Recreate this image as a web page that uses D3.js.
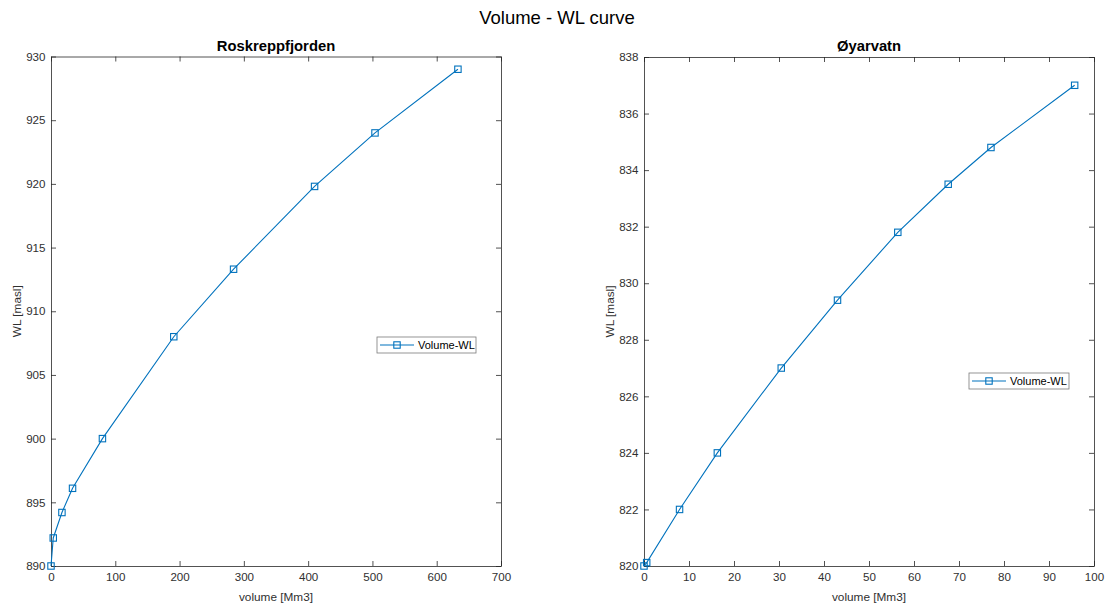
<!DOCTYPE html>
<html>
<head>
<meta charset="utf-8">
<script src="https://cdn.jsdelivr.net/npm/d3@7"></script>
<style>
  body { margin: 0; background: #fff; }
  svg { display: block; font-family: "Liberation Sans", Arial, Helvetica, sans-serif; }
  .tick text { fill: #303030; font-size: 11.6px; }
  .axis-label { fill: #303030; font-size: 11.8px; }
  .panel-title { fill: #000; font-size: 14.8px; font-weight: bold; }
</style>
</head>
<body>
<div id="chart"></div>
<script>
// Roskreppfjorden
const roskVolume = [0, 3.5, 17, 33.5, 80, 191, 284, 410, 504, 633];
const roskWL = [890, 892.2, 894.2, 896.1, 900, 908, 913.3, 919.8, 924, 929];
const roskXTicks = [0, 100, 200, 300, 400, 500, 600, 700];
const roskYTicks = [890, 895, 900, 905, 910, 915, 920, 925, 930];

// Øyarvatn
const oyVolume = [0, 0.6, 7.9, 16.3, 30.5, 43, 56.4, 67.6, 77.1, 95.7];
const oyWL = [820, 820.12, 822, 824, 827, 829.4, 831.8, 833.5, 834.8, 837];
const oyXTicks = [0, 10, 20, 30, 40, 50, 60, 70, 80, 90, 100];
const oyYTicks = [820, 822, 824, 826, 828, 830, 832, 834, 836, 838];

const W = 1113, H = 604;
const lineColor = "#0072BD";
const axisColor = "#262626";

const svg = d3.select("#chart").append("svg")
  .attr("width", W)
  .attr("height", H);

svg.append("text")
  .attr("x", W / 2 + 0.5)
  .attr("y", 24)
  .attr("text-anchor", "middle")
  .style("font-size", "18.5px")
  .style("fill", "#000")
  .text("Volume - WL curve");

function drawPanel(cfg) {
  const x = d3.scaleLinear().domain(d3.extent(cfg.xTicks)).range([cfg.left, cfg.right]);
  const y = d3.scaleLinear().domain(d3.extent(cfg.yTicks)).range([cfg.bottom, cfg.top]);
  const g = svg.append("g");

  // axes box with inward ticks on all four sides (MATLAB style)
  const axes = [
    { ax: d3.axisBottom(x).tickValues(cfg.xTicks).tickSize(-5).tickPadding(7), t: `translate(0,${cfg.bottom})`, labels: true },
    { ax: d3.axisTop(x).tickValues(cfg.xTicks).tickSize(-5), t: `translate(0,${cfg.top})`, labels: false },
    { ax: d3.axisLeft(y).tickValues(cfg.yTicks).tickSize(-5).tickPadding(5.5), t: `translate(${cfg.left},0)`, labels: true },
    { ax: d3.axisRight(y).tickValues(cfg.yTicks).tickSize(-5), t: `translate(${cfg.right},0)`, labels: false }
  ];
  axes.forEach(a => {
    const ag = g.append("g").attr("transform", a.t).call(a.ax.tickSizeOuter(0));
    ag.select(".domain").attr("stroke", axisColor).attr("stroke-width", 0.8);
    ag.selectAll(".tick line").attr("stroke", axisColor).attr("stroke-width", 0.8);
    if (!a.labels) ag.selectAll(".tick text").remove();
    ag.selectAll(".tick text").attr("font-family", null).attr("font-size", null);
  });

  // titles and labels
  g.append("text")
    .attr("class", "panel-title")
    .attr("x", (cfg.left + cfg.right) / 2)
    .attr("y", cfg.top - 6)
    .attr("text-anchor", "middle")
    .text(cfg.title);

  g.append("text")
    .attr("class", "axis-label")
    .attr("x", (cfg.left + cfg.right) / 2)
    .attr("y", cfg.bottom + 35)
    .attr("text-anchor", "middle")
    .text("volume [Mm3]");

  g.append("text")
    .attr("class", "axis-label")
    .attr("transform", `translate(${cfg.left - 30},${(cfg.top + cfg.bottom) / 2}) rotate(-90)`)
    .attr("text-anchor", "middle")
    .text("WL [masl]");

  const data = cfg.xs.map((v, i) => ({ v: v, wl: cfg.ys[i] }));

  const line = d3.line().x(d => x(d.v)).y(d => y(d.wl));
  g.append("path")
    .datum(data)
    .attr("fill", "none")
    .attr("stroke", lineColor)
    .attr("stroke-width", 1.1)
    .attr("d", line);

  g.selectAll("rect.marker").data(data).join("rect")
    .attr("class", "marker")
    .attr("x", d => x(d.v) - 3.2)
    .attr("y", d => y(d.wl) - 3.2)
    .attr("width", 6.4)
    .attr("height", 6.4)
    .attr("fill", "none")
    .attr("stroke", lineColor)
    .attr("stroke-width", 1.1);

  // legend
  const lg = g.append("g").attr("transform", `translate(${cfg.legend[0]},${cfg.legend[1]})`);
  lg.append("rect")
    .attr("x", 0).attr("y", 0)
    .attr("width", cfg.legend[2]).attr("height", 16)
    .attr("fill", "#fff")
    .attr("stroke", "#7a7a7a")
    .attr("stroke-width", 0.8);
  lg.append("line")
    .attr("x1", 3).attr("x2", 37)
    .attr("y1", 8).attr("y2", 8)
    .attr("stroke", lineColor)
    .attr("stroke-width", 1.1);
  lg.append("rect")
    .attr("x", 20 - 3.2).attr("y", 8 - 3.2)
    .attr("width", 6.4).attr("height", 6.4)
    .attr("fill", "none")
    .attr("stroke", lineColor)
    .attr("stroke-width", 1.1);
  lg.append("text")
    .attr("x", 41).attr("y", 12)
    .style("font-size", "11px")
    .style("fill", "#000")
    .text("Volume-WL");
}

drawPanel({
  title: "Roskreppfjorden",
  xs: roskVolume, ys: roskWL,
  xTicks: roskXTicks, yTicks: roskYTicks,
  left: 51, right: 501, top: 56.5, bottom: 566,
  legend: [377, 337, 99]
});

drawPanel({
  title: "Øyarvatn",
  xs: oyVolume, ys: oyWL,
  xTicks: oyXTicks, yTicks: oyYTicks,
  left: 644, right: 1094, top: 57, bottom: 566,
  legend: [969, 373, 100]
});
</script>
</body>
</html>
